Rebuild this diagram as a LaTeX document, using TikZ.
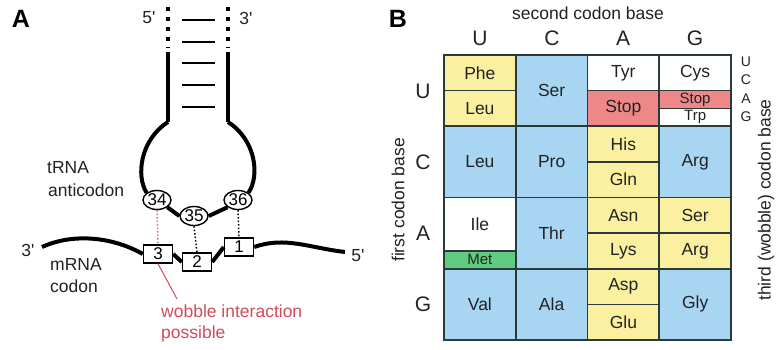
\documentclass[tikz,border=0pt]{standalone}
\usepackage{fontspec}
\setmainfont{Liberation Sans}
\usetikzlibrary{shapes.geometric}
\definecolor{cyel}{HTML}{FBF0A0}
\definecolor{cblu}{HTML}{A8D6F2}
\definecolor{cred}{HTML}{EE8888}
\definecolor{cgrn}{HTML}{60CC80}
\definecolor{gridc}{HTML}{2A3A3A}
\definecolor{wred}{HTML}{D24A5A}
\definecolor{txt}{HTML}{222222}
\tikzset{
  cellbox/.style={draw=gridc, line width=1.7pt, inner sep=0pt, outer sep=0pt,
    anchor=north west, minimum width=71.75pt, text=txt,
    font=\fontsize{17.5}{19}\selectfont},
  full/.style={minimum height=71.25pt},
  half/.style={minimum height=35.625pt},
  quarter/.style={minimum height=17.8125pt, font=\fontsize{15}{15}\selectfont},
  threeq/.style={minimum height=53.4375pt},
  lbl/.style={text=txt, font=\fontsize{17.5}{19}\selectfont, inner sep=0pt},
  biglbl/.style={text=txt, font=\fontsize{21}{23}\selectfont, inner sep=0pt},
  panel/.style={text=black, font=\fontsize{25}{27}\selectfont\bfseries, inner sep=0pt},
  strand/.style={line width=4pt, black},
  pairline/.style={line width=1.8pt, black},
  nuc/.style={ellipse, draw, line width=1.4pt, fill=white, minimum width=28pt,
    minimum height=19pt, inner sep=0pt, font=\fontsize{17}{18}\selectfont},
  base/.style={rectangle, draw, line width=1.4pt, fill=white, minimum width=29pt,
    minimum height=18pt, inner sep=0pt, font=\fontsize{17}{18}\selectfont},
  hbond/.style={dotted, line width=1.5pt, black},
}
\begin{document}
\begin{tikzpicture}[x=1pt,y=-1pt]
\useasboundingbox (0,0) rectangle (783,349);

% ---------------- Panel A ----------------
\node[panel] (pA) at (21,19) {A};
\node[lbl] (p5) at (149,18) {5\textquotesingle};
\node[lbl] (p3) at (246,18) {3\textquotesingle};

\coordinate (lt) at (168,7);
\coordinate (lm) at (168,48);
\coordinate (lb) at (168,122);
\coordinate (rt) at (228,7);
\coordinate (rm) at (228,48);
\coordinate (rb) at (228,122);
\draw[line width=4pt, dash pattern=on 4pt off 6pt] (lt) -- (lm);
\draw[line width=4pt, dash pattern=on 4pt off 6pt] (rt) -- (rm);
\draw[strand] (lm) ++(0,4) -- (lb);
\draw[strand] (rm) ++(0,4) -- (rb);

\foreach \yy in {20,42,63,85,107}
  \draw[pairline] (182,\yy) -- (215,\yy);

\node[nuc] (n34) at (157,200) {34};
\node[nuc] (n35) at (194,216) {35};
\node[nuc] (n36) at (238,200) {36};

\draw[strand] (lb) .. controls (140,140) and (136,176) .. (n34.north west);
\draw[strand] (rb) .. controls (256,140) and (260,176) .. (n36.north east);
\draw[strand] (n34.south east) -- (n35.west);
\draw[strand] (n35.east) -- (n36.south west);

\node[base] (b3) at (158,254) {3};
\node[base] (b2) at (197,262) {2};
\node[base] (b1) at (239,247) {1};

\coordinate (m3) at (42,247);
\coordinate (m5) at (345,252);
\draw[strand] (m3) .. controls (75,232) and (115,238) .. (b3.west);
\draw[strand] (b3.east) -- (b2.west);
\draw[strand] (b2.east) -- (b1.west);
\draw[strand] (b1.east) .. controls (285,236) and (310,248) .. (m5);

\draw[dotted, line width=1.5pt, wred!80] (n34.south) -- (b3.north);
\draw[hbond] (n35.south) -- (b2.north);
\draw[hbond] (n36.south) -- (b1.north);

\node[lbl] (l3) at (28,250) {3\textquotesingle};
\node[lbl] (l5) at (358,256) {5\textquotesingle};
\node[lbl, anchor=west] (ltrna) at (47,168) {tRNA};
\node[lbl, anchor=west] (lanti) at (48,190) {anticodon};
\node[lbl, anchor=west] (lmrna) at (50,264) {mRNA};
\node[lbl, anchor=west] (lcod) at (50,286) {codon};

\node[lbl, anchor=west, text=wred] (wob1) at (161,311) {wobble interaction};
\node[lbl, anchor=west, text=wred] (wob2) at (161,334) {possible};
\coordinate (wend) at (177,299);
\draw[wred, line width=1pt] (b3.south) -- (wend);

% ---------------- Panel B ----------------
\node[panel] (pB) at (398,19) {B};
\node[lbl] (sec) at (588,13) {second codon base};
\node[biglbl] (cU) at (480,38) {U};
\node[biglbl] (cC) at (552,38) {C};
\node[biglbl] (cA) at (623,38) {A};
\node[biglbl] (cG) at (695,38) {G};
\node[biglbl] (rU) at (423,91) {U};
\node[biglbl] (rC) at (423,162) {C};
\node[biglbl] (rA) at (423,233) {A};
\node[biglbl] (rG) at (423,304) {G};
\node[lbl, rotate=90] (first) at (398,200) {first codon base};
\node[lbl, rotate=90] (third) at (766,200) {third (wobble) codon base};
\node[lbl, font=\fontsize{14}{14}\selectfont] (tU) at (746,62) {U};
\node[lbl, font=\fontsize{14}{14}\selectfont] (tC) at (746,80) {C};
\node[lbl, font=\fontsize{14}{14}\selectfont] (tA) at (746,99) {A};
\node[lbl, font=\fontsize{14}{14}\selectfont] (tG) at (746,117) {G};

% column U
\node[cellbox, half, fill=cyel] (phe) at (444,55) {Phe};
\node[cellbox, half, fill=cyel] (leu1) at (444,90.625) {Leu};
\node[cellbox, full, fill=cblu] (leu2) at (444,126.25) {Leu};
\node[cellbox, threeq, fill=white] (ile) at (444,197.5) {Ile};
\node[cellbox, quarter, fill=cgrn] (met) at (444,250.9375) {Met};
\node[cellbox, full, fill=cblu] (val) at (444,268.75) {Val};
% column C
\node[cellbox, full, fill=cblu] (ser1) at (515.75,55) {Ser};
\node[cellbox, full, fill=cblu] (pro) at (515.75,126.25) {Pro};
\node[cellbox, full, fill=cblu] (thr) at (515.75,197.5) {Thr};
\node[cellbox, full, fill=cblu] (ala) at (515.75,268.75) {Ala};
% column A
\node[cellbox, half, fill=white] (tyr) at (587.5,55) {Tyr};
\node[cellbox, half, fill=cred] (stop1) at (587.5,90.625) {Stop};
\node[cellbox, half, fill=cyel] (his) at (587.5,126.25) {His};
\node[cellbox, half, fill=cyel] (gln) at (587.5,161.875) {Gln};
\node[cellbox, half, fill=cyel] (asn) at (587.5,197.5) {Asn};
\node[cellbox, half, fill=cyel] (lys) at (587.5,233.125) {Lys};
\node[cellbox, half, fill=cyel] (asp) at (587.5,268.75) {Asp};
\node[cellbox, half, fill=cyel] (glu) at (587.5,304.375) {Glu};
% column G
\node[cellbox, half, fill=white] (cys) at (659.25,55) {Cys};
\node[cellbox, quarter, fill=cred] (stop2) at (659.25,90.625) {Stop};
\node[cellbox, quarter, fill=white] (trp) at (659.25,108.4375) {Trp};
\node[cellbox, full, fill=cblu] (arg1) at (659.25,126.25) {Arg};
\node[cellbox, half, fill=cyel] (ser2) at (659.25,197.5) {Ser};
\node[cellbox, half, fill=cyel] (arg2) at (659.25,233.125) {Arg};
\node[cellbox, full, fill=cblu] (gly) at (659.25,268.75) {Gly};
\end{tikzpicture}
\end{document}
